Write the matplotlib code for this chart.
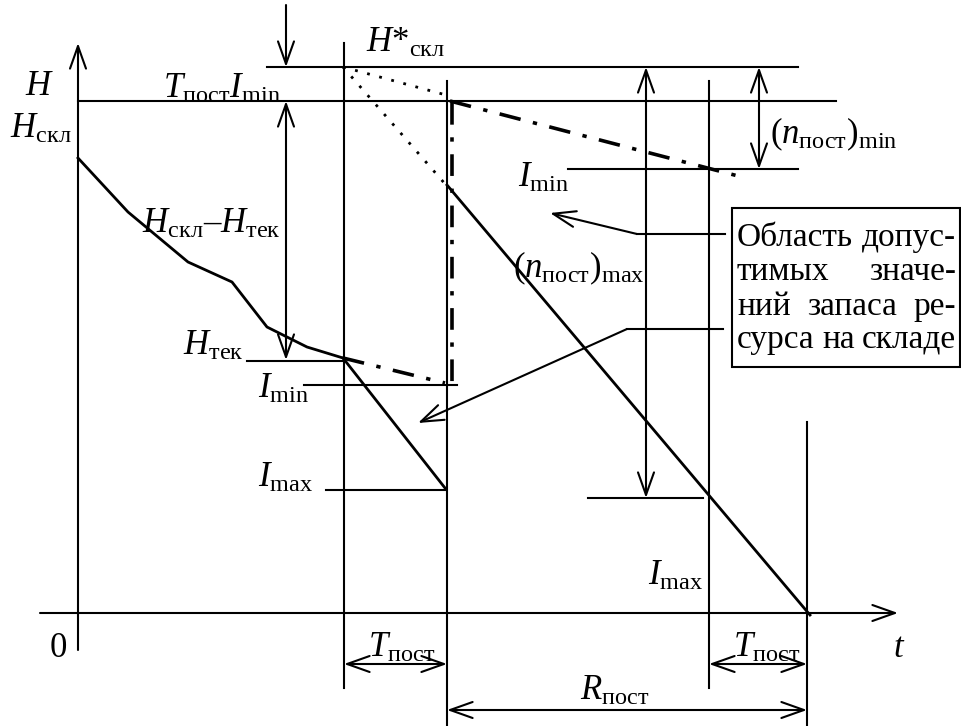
import matplotlib
matplotlib.use("Agg")
import matplotlib.pyplot as plt

plt.rcParams["font.family"] = ["Liberation Serif", "DejaVu Serif"]
plt.rcParams["mathtext.fontset"] = "custom"
plt.rcParams["mathtext.rm"] = "Liberation Serif"
plt.rcParams["mathtext.it"] = "Liberation Serif:italic"

W, H = 962, 726
LW = 1.5

# ── схема в пиксельных координатах ─────────────────────
# фактический расход (ломаная)
curve_x = [78, 128, 188, 232, 267, 307, 343]
curve_y = [158, 212, 262, 282, 327, 347, 358]

# уровни (горизонтальные линии): y, x_from, x_to
levels_y = [67, 101, 169, 361, 385, 490, 498]
levels_x0 = [267, 78, 568, 247, 304, 326, 588]
levels_x1 = [798, 836, 798, 344, 457, 445, 703]

# вертикали: x, y_from, y_to
vert_x = [344, 447, 709, 807]
vert_y0 = [43, 81, 81, 422]
vert_y1 = [688, 726, 688, 726]

# прямые расхода
solid_segs = [((343, 358), (445, 488)), ((447, 185), (810, 615))]
dashdot_segs = [((343, 358), (445, 383)), ((450, 101), (742, 177)),
                ((452, 103), (452, 382))]
dotted_segs = [((343, 67), (446, 95)), ((343, 67), (446, 185))]

# размерные стрелки: (tail, tip, двусторонняя?)
dim_arrows = [((286, 5), (286, 67), False),
              ((286, 101), (286, 360), True),
              ((646, 67), (646, 498), True),
              ((759, 67), (759, 169), True),
              ((344, 664), (447, 664), True),
              ((709, 664), (807, 664), True),
              ((447, 710), (807, 710), True)]

# подписи: текст, x слева, базовая линия
labels = [
    (r"$H$", 25, 95),
    (r"$H_{\mathrm{скл}}$", 10, 138),
    (r"$T_{\mathrm{пост}}I_{\mathrm{min}}$", 163, 98),
    (r"$H\mathrm{*}_{\mathrm{скл}}$", 366, 52),
    (r"$H_{\mathrm{скл}}\mathrm{–}H_{\mathrm{тек}}$", 142, 233),
    (r"$H_{\mathrm{тек}}$", 183, 355),
    (r"$I_{\mathrm{min}}$", 258, 398),
    (r"$I_{\mathrm{max}}$", 258, 487),
    (r"$I_{\mathrm{min}}$", 518, 187),
    (r"$(n_{\mathrm{пост}})_{\mathrm{max}}$", 513, 277),
    (r"$(n_{\mathrm{пост}})_{\mathrm{min}}$", 770, 143),
    (r"$I_{\mathrm{max}}$", 648, 585),
    (r"$T_{\mathrm{пост}}$", 368, 657),
    (r"$T_{\mathrm{пост}}$", 733, 657),
    (r"$R_{\mathrm{пост}}$", 580, 700),
    (r"$t$", 893, 657),
    ("0", 50, 657),
]

box_lines = [["Область", "допус-"], ["тимых", "значе-"],
             ["ний", "запаса", "ре-"], ["сурса", "на", "складе"]]
box_base = [246, 280, 315, 348]

fig = plt.figure(figsize=(W / 100, H / 100), dpi=100)
ax = fig.add_axes([0, 0, 1, 1])
ax.set_xlim(0, W)
ax.set_ylim(H, 0)
ax.axis("off")


def arrow(p0, p1, both=False, lw=LW):
    style = "<->" if both else "->"
    ax.annotate("", xy=p1, xytext=p0,
                arrowprops=dict(arrowstyle=f"{style},head_length=0.45,head_width=0.16",
                                lw=lw, color="black", shrinkA=0, shrinkB=0,
                                mutation_scale=36))


# оси
arrow((78, 650), (78, 43))
arrow((40, 613), (898, 613))

for y, x0, x1 in zip(levels_y, levels_x0, levels_x1):
    ax.plot([x0, x1], [y, y], color="black", lw=LW)
for x, y0, y1 in zip(vert_x, vert_y0, vert_y1):
    ax.plot([x, x], [y0, y1], color="black", lw=LW)

ax.plot(curve_x, curve_y, color="black", lw=2)
for a, b in solid_segs:
    ax.plot([a[0], b[0]], [a[1], b[1]], color="black", lw=2)
for a, b in dashdot_segs:
    ax.plot([a[0], b[0]], [a[1], b[1]], color="black", lw=2.6,
            linestyle=(0, (6, 3.5, 1.2, 3.5)))
for a, b in dotted_segs:
    ax.plot([a[0], b[0]], [a[1], b[1]], color="black", lw=2,
            linestyle=(0, (1, 3.5)))

for p0, p1, both in dim_arrows:
    arrow(p0, p1, both)

# выноски от рамки
ax.plot([725, 637], [234, 234], color="black", lw=LW)
arrow((637, 234), (550, 213))
ax.plot([723, 627], [329, 329], color="black", lw=LW)
arrow((627, 329), (418, 423))

for txt, x, y in labels:
    ax.text(x, y, txt, fontsize=25, ha="left", va="baseline")

# рамка с текстом
ax.add_patch(plt.Rectangle((732, 208), 228, 159, fill=False, lw=LW,
                           edgecolor="black"))

fig.canvas.draw()
rend = fig.canvas.get_renderer()
bx0, bx1 = 737, 956
for words, yb in zip(box_lines, box_base):
    ts = [ax.text(0, yb, w, fontsize=24, ha="left", va="baseline") for w in words]
    widths = [t.get_window_extent(rend).width for t in ts]
    gap = (bx1 - bx0 - sum(widths)) / (len(ts) - 1)
    x = bx0
    for t, w in zip(ts, widths):
        t.set_x(x)
        x += w + gap

fig.savefig("out.png", dpi=100)
